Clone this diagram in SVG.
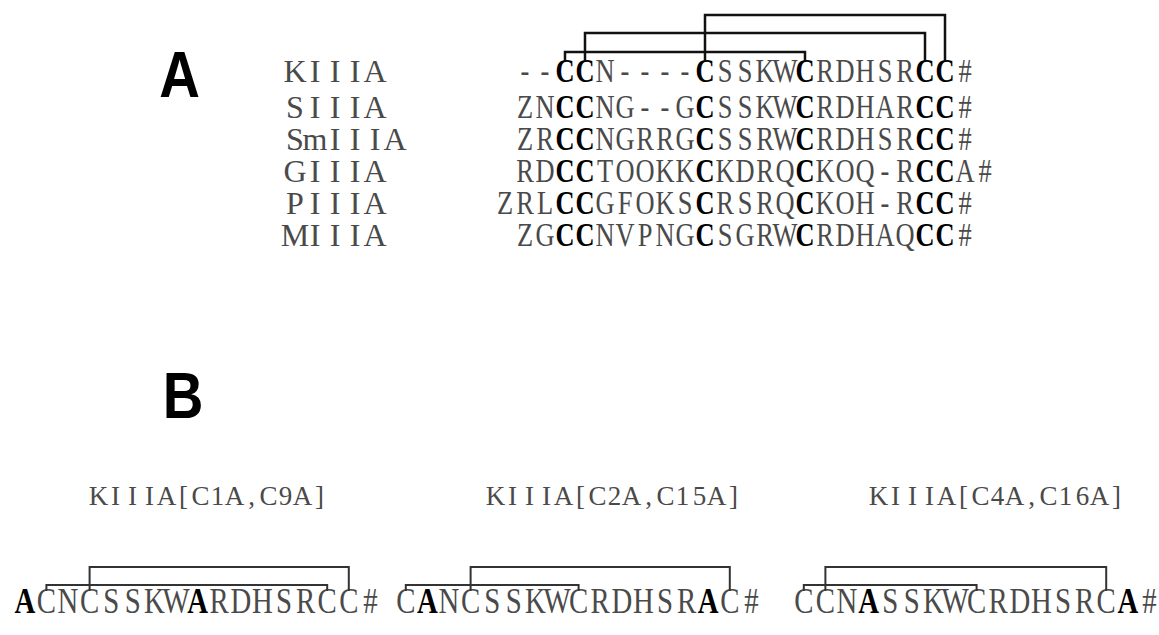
<svg xmlns="http://www.w3.org/2000/svg" width="1159" height="635" viewBox="0 0 1159 635">
<style>
  .panel{font-family:"Liberation Sans",Arial,sans-serif;font-weight:bold;font-size:64px;fill:#000}
  .mono{font-family:"Liberation Serif","Times New Roman",serif;fill:#4a4a4a;text-anchor:middle}
  .lab{font-size:32px}
  .seq{font-size:33px}
  .seqb{font-size:36px}
  .blab{font-size:27px}
  .b{font-weight:bold;fill:#000}
  .br{fill:none;stroke:#111;stroke-width:2.5}
  .brb{fill:none;stroke:#333;stroke-width:2}
</style>
<rect width="1159" height="635" fill="#fff"/>
<g id="panelA"><text class="panel" x="181" y="97" transform="scale(0.88,1)">A</text></g>
<g id="panelB"><text class="panel" x="185" y="418" transform="scale(0.88,1)">B</text></g>

<g id="KIIIA">
<text class="mono lab" y="82" x="295 315 335 355 375">KIIIA</text>
<text class="mono seq" y="82" transform="scale(0.8,1)" x="656.25 681.25 706.25 731.25 756.25 781.25 806.25 831.25 856.25 881.25 906.25 931.25 956.25 981.25 1006.25 1031.25 1056.25 1081.25 1106.25 1131.25 1156.25 1181.25 1206.25">--<tspan class="b">CC</tspan>N----<tspan class="b">C</tspan>SSKW<tspan class="b">C</tspan>RDHSR<tspan class="b">CC</tspan>#</text>
</g>
<g id="SIIIA">
<text class="mono lab" y="118" x="295 315 335 355 375">SIIIA</text>
<text class="mono seq" y="118" transform="scale(0.8,1)" x="656.25 681.25 706.25 731.25 756.25 781.25 806.25 831.25 856.25 881.25 906.25 931.25 956.25 981.25 1006.25 1031.25 1056.25 1081.25 1106.25 1131.25 1156.25 1181.25 1206.25">ZN<tspan class="b">CC</tspan>NG--G<tspan class="b">C</tspan>SSKW<tspan class="b">C</tspan>RDHAR<tspan class="b">CC</tspan>#</text>
</g>
<g id="SmIIIA">
<text class="mono lab" y="150" x="295 315 335 355 375 395">SmIIIA</text>
<text class="mono seq" y="150" transform="scale(0.8,1)" x="656.25 681.25 706.25 731.25 756.25 781.25 806.25 831.25 856.25 881.25 906.25 931.25 956.25 981.25 1006.25 1031.25 1056.25 1081.25 1106.25 1131.25 1156.25 1181.25 1206.25">ZR<tspan class="b">CC</tspan>NGRRG<tspan class="b">C</tspan>SSRW<tspan class="b">C</tspan>RDHSR<tspan class="b">CC</tspan>#</text>
</g>
<g id="GIIIA">
<text class="mono lab" y="182" x="295 315 335 355 375">GIIIA</text>
<text class="mono seq" y="182" transform="scale(0.8,1)" x="656.25 681.25 706.25 731.25 756.25 781.25 806.25 831.25 856.25 881.25 906.25 931.25 956.25 981.25 1006.25 1031.25 1056.25 1081.25 1106.25 1131.25 1156.25 1181.25 1206.25 1231.25">RD<tspan class="b">CC</tspan>TOOKK<tspan class="b">C</tspan>KDRQ<tspan class="b">C</tspan>KOQ-R<tspan class="b">CC</tspan>A#</text>
</g>
<g id="PIIIA">
<text class="mono lab" y="214" x="295 315 335 355 375">PIIIA</text>
<text class="mono seq" y="214" transform="scale(0.8,1)" x="631.25 656.25 681.25 706.25 731.25 756.25 781.25 806.25 831.25 856.25 881.25 906.25 931.25 956.25 981.25 1006.25 1031.25 1056.25 1081.25 1106.25 1131.25 1156.25 1181.25 1206.25">ZRL<tspan class="b">CC</tspan>GFOKS<tspan class="b">C</tspan>RSRQ<tspan class="b">C</tspan>KOH-R<tspan class="b">CC</tspan>#</text>
</g>
<g id="MIIIA">
<text class="mono lab" y="246" x="295 315 335 355 375">MIIIA</text>
<text class="mono seq" y="246" transform="scale(0.8,1)" x="656.25 681.25 706.25 731.25 756.25 781.25 806.25 831.25 856.25 881.25 906.25 931.25 956.25 981.25 1006.25 1031.25 1056.25 1081.25 1106.25 1131.25 1156.25 1181.25 1206.25">ZG<tspan class="b">CC</tspan>NVPNG<tspan class="b">C</tspan>SGRW<tspan class="b">C</tspan>RDHAQ<tspan class="b">CC</tspan>#</text>
</g>

<g id="mut1">
<text class="mono blab" y="505" x="98.5 115.5 132.5 149.5 166.5 183.5 200.5 217.5 234.5 251.5 268.5 285.5 302.5 319.5">KIIIA[C1A,C9A]</text>
<text class="mono seqb" y="613" transform="scale(0.8,1)" x="31 58 85 112 139 166 193 220 247 274 301 328 355 382 409 436 463"><tspan class="b">A</tspan>CNCSSKW<tspan class="b">A</tspan>RDHSRCC#</text>
</g>
<g id="mut2">
<text class="mono blab" y="505" x="495.5 512.5 529.5 546.5 563.5 580.5 597.5 614.5 631.5 648.5 665.5 682.5 699.5 716.5 733.5">KIIIA[C2A,C15A]</text>
<text class="mono seqb" y="613" transform="scale(0.8,1)" x="507.25 534.25 561.25 588.25 615.25 642.25 669.25 696.25 723.25 750.25 777.25 804.25 831.25 858.25 885.25 912.25 939.25">C<tspan class="b">A</tspan>NCSSKWCRDHSR<tspan class="b">A</tspan>C#</text>
</g>
<g id="mut3">
<text class="mono blab" y="505" x="878.5 895.5 912.5 929.5 946.5 963.5 980.5 997.5 1014.5 1031.5 1048.5 1065.5 1082.5 1099.5 1116.5">KIIIA[C4A,C16A]</text>
<text class="mono seqb" y="613" transform="scale(0.8,1)" x="1004.75 1031.75 1058.75 1085.75 1112.75 1139.75 1166.75 1193.75 1220.75 1247.75 1274.75 1301.75 1328.75 1355.75 1382.75 1409.75 1436.75">CCN<tspan class="b">A</tspan>SSKWCRDHSRC<tspan class="b">A</tspan>#</text>
</g>

<g id="connectors">
  <path class="br" d="M565,61V52H805V61"/>
  <path class="br" d="M585,61V33H925V61"/>
  <path class="br" d="M705,61V15H945V61"/>
  <path class="brb" d="M46.4,591V585H327.2V591"/>
  <path class="brb" d="M89.6,591V567H348.8V591"/>
  <path class="brb" d="M405.8,591V585H578.6V591"/>
  <path class="brb" d="M470.6,591V567H729.8V591"/>
  <path class="brb" d="M803.8,591V585H976.6V591"/>
  <path class="brb" d="M825.4,591V567H1106.2V591"/>
</g>
</svg>
